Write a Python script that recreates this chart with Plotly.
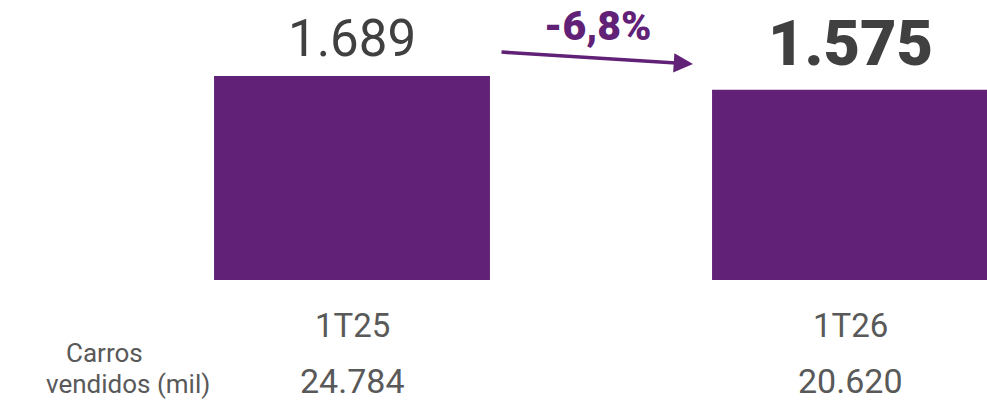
import plotly.graph_objects as go

categories = ["1T25", "1T26"]
values = [1689, 1575]
value_labels = ["1.689", "1.575"]
cars_sold = ["24.784", "20.620"]
row_label_lines = ["Carros", "vendidos (mil)"]
change_label = "-6,8%"

PURPLE = "#612177"
DARK = "#404040"
GRAY = "#595959"
FONT = "Roboto"
W, H = 987, 402

xpos = list(range(len(categories)))

fig = go.Figure()
fig.add_trace(go.Bar(x=xpos, y=values, width=0.554, marker_color=PURPLE,
                     marker_line_width=0, hoverinfo="skip"))

# value labels above bars
fig.add_annotation(x=xpos[0], y=values[0], text=value_labels[0], showarrow=False,
                   xanchor="center", yanchor="bottom", yshift=6,
                   font=dict(family=FONT, size=51, color=DARK, weight=400))
fig.add_annotation(x=xpos[1], y=values[1], text=value_labels[1], showarrow=False,
                   xanchor="center", yanchor="bottom", yshift=8,
                   font=dict(family=FONT, size=63, color=DARK, weight=900))

# category labels and cars row
for i, c in enumerate(categories):
    fig.add_annotation(x=xpos[i], y=1 - 325 / H, yref="paper", text=c, showarrow=False,
                       xanchor="center", yanchor="middle",
                       font=dict(family=FONT, size=33, color=GRAY))
    fig.add_annotation(x=xpos[i], y=1 - 381 / H, yref="paper", text=cars_sold[i], showarrow=False,
                       xanchor="center", yanchor="middle",
                       font=dict(family=FONT, size=34, color=GRAY))

for line, cx, cy in zip(row_label_lines, [104, 128], [353, 384]):
    fig.add_annotation(x=cx / W, xref="paper", y=1 - cy / H, yref="paper", text=line,
                       showarrow=False, xanchor="center", yanchor="middle",
                       font=dict(family=FONT, size=26, color=GRAY))

# change arrow
fig.add_annotation(x=693 / W, xref="paper", y=1 - 64 / H, yref="paper",
                   ax=-193, ay=-12, axref="pixel", ayref="pixel", text="",
                   showarrow=True, arrowhead=2, arrowsize=1.1, arrowwidth=3.5,
                   arrowcolor=PURPLE)
fig.add_annotation(x=597 / W, xref="paper", y=1 - 26 / H, yref="paper",
                   text=change_label, showarrow=False, xanchor="center", yanchor="middle",
                   font=dict(family=FONT, size=41, color=PURPLE, weight=900))

px_per_unit = 204 / 1689
fig.update_layout(
    width=W, height=H,
    margin=dict(l=0, r=0, t=0, b=0),
    paper_bgcolor="white", plot_bgcolor="white",
    showlegend=False,
    xaxis=dict(range=[-352 / 498, (W - 352) / 498], visible=False, fixedrange=True),
    yaxis=dict(range=[-(H - 280) / px_per_unit, 280 / px_per_unit], visible=False, fixedrange=True),
)

fig.write_html("out.html", config={"displayModeBar": False},
               post_script="document.body.style.margin='0';document.body.style.overflow='hidden';")
